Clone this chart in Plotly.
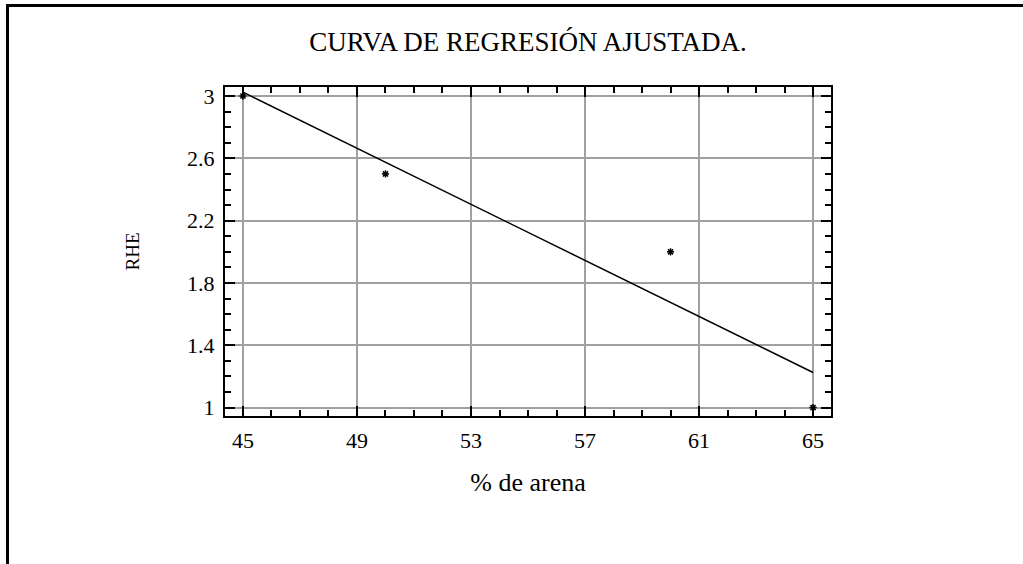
import plotly.graph_objects as go

# Observed data points
arena = [45, 50, 60, 65]
rhe = [3.0, 2.5, 2.0, 1.0]

# Fitted regression line
fit_x = [45, 65]
fit_y = [3.025, 1.225]

x_ticks = [45, 49, 53, 57, 61, 65]
y_ticks = [1, 1.4, 1.8, 2.2, 2.6, 3]
y_tick_labels = ["1", "1.4", "1.8", "2.2", "2.6", "3"]

W, H = 1023, 564
ML, MR, MT, MB = 225, 192, 87, 148
PW = W - ML - MR
PH = H - MT - MB

def px_to_paper_x(px):
    return (px - ML) / PW

def px_to_paper_y(py):
    return (H - MB - py) / PH

fig = go.Figure()
fig.add_trace(go.Scatter(x=fit_x, y=fit_y, mode="lines",
                         line=dict(color="black", width=1.5), showlegend=False))
fig.add_trace(go.Scatter(x=arena, y=rhe, mode="markers",
                         marker=dict(symbol="asterisk-open", size=6, color="black",
                                     line=dict(color="black", width=1.5)),
                         showlegend=False))

font_family = "Liberation Serif, Times New Roman, serif"

fig.update_layout(
    width=W, height=H,
    margin=dict(l=ML, r=MR, t=MT, b=MB),
    paper_bgcolor="white", plot_bgcolor="white",
    title=dict(text="CURVA DE REGRESIÓN AJUSTADA.", x=0.5, xref="paper",
               y=1 - 42 / H, yanchor="middle",
               font=dict(family=font_family, size=27, color="black")),
    font=dict(family=font_family, color="black"),
    xaxis=dict(range=[44.37, 65.63], tickvals=x_ticks, ticktext=[str(v) for v in x_ticks],
               showgrid=True, gridcolor="#a0a0a0", gridwidth=2, zeroline=False,
               showline=True, linecolor="black", linewidth=2, mirror="allticks",
               ticks="inside", ticklen=10, tickwidth=1.5, tickcolor="black",
               minor=dict(dtick=1, tick0=45, ticks="inside", ticklen=6, tickwidth=1.5,
                          tickcolor="black", showgrid=False),
               tickfont=dict(size=22), ticklabelstandoff=4,
               title=dict(text="% de arena", font=dict(size=26), standoff=20)),
    yaxis=dict(range=[0.946, 3.058], tickvals=y_ticks, ticktext=y_tick_labels,
               showgrid=True, gridcolor="#a0a0a0", gridwidth=2, zeroline=False,
               showline=True, linecolor="black", linewidth=2, mirror="allticks",
               ticks="inside", ticklen=10, tickwidth=1.5, tickcolor="black",
               minor=dict(dtick=0.1, tick0=1, ticks="inside", ticklen=6, tickwidth=1.5,
                          tickcolor="black", showgrid=False),
               tickfont=dict(size=22), ticklabelstandoff=4,
               title=dict(text="RHE", font=dict(size=19), standoff=42)),
    shapes=[
        dict(type="line", xref="paper", yref="paper",
             x0=px_to_paper_x(7.5), x1=px_to_paper_x(7.5),
             y0=px_to_paper_y(4), y1=px_to_paper_y(H + 5),
             line=dict(color="black", width=3)),
        dict(type="line", xref="paper", yref="paper",
             x0=px_to_paper_x(6), x1=px_to_paper_x(W + 5),
             y0=px_to_paper_y(5.5), y1=px_to_paper_y(5.5),
             line=dict(color="black", width=3)),
    ],
)

fig.write_html("out.html")
